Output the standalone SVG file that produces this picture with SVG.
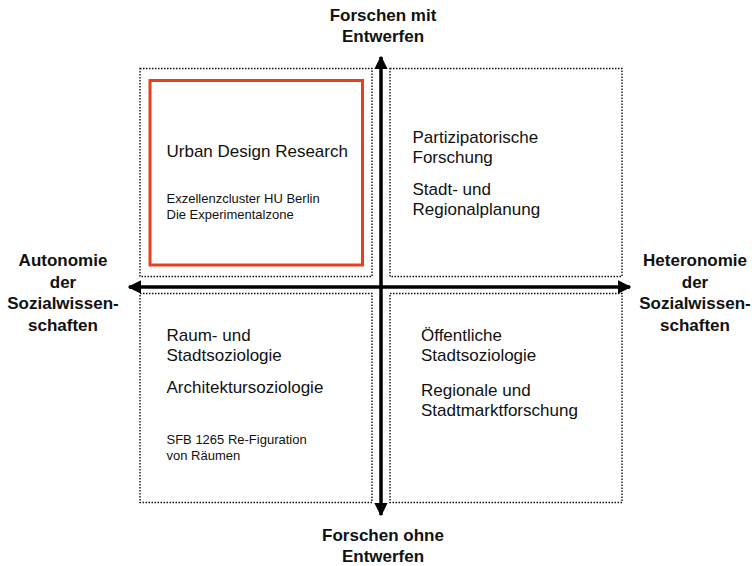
<svg xmlns="http://www.w3.org/2000/svg" width="752" height="566" viewBox="0 0 752 566">
<style>
.q{fill:none;stroke:#111;stroke-width:1.4;stroke-dasharray:1.5 1.5}
.t{font-family:"Liberation Sans",Arial,sans-serif;font-size:17px;fill:#111}
.s{font-family:"Liberation Sans",Arial,sans-serif;font-size:13px;fill:#111}
.b{font-family:"Liberation Sans",Arial,sans-serif;font-size:17px;font-weight:bold;fill:#111;text-anchor:middle}
.ax{stroke:#000;stroke-width:3.5;fill:none}
</style>
<defs>
<marker id="ah" viewBox="0 0 10 10" refX="9" refY="5" markerWidth="3.8" markerHeight="3.8" orient="auto" markerUnits="strokeWidth">
<path d="M0,0 L10,5 L0,10 Z" fill="#000"/>
</marker>
</defs>
<rect width="752" height="566" fill="#fff"/>
<g id="quadrant-tl">
<rect class="q" x="140" y="68.5" width="232" height="208"/>
<rect x="150" y="80.5" width="212.5" height="184.5" fill="none" stroke="#E8401C" stroke-width="3"/>
<text class="t" x="166.5" y="157">Urban Design Research</text>
<text class="s" x="166.5" y="203">Exzellenzcluster HU Berlin</text>
<text class="s" x="166.5" y="219">Die Experimentalzone</text>
</g>
<g id="quadrant-tr">
<rect class="q" x="390" y="68.5" width="232" height="208"/>
<text class="t" x="412.5" y="143">Partizipatorische</text>
<text class="t" x="412.5" y="163">Forschung</text>
<text class="t" x="412.5" y="195">Stadt- und</text>
<text class="t" x="412.5" y="215">Regionalplanung</text>
</g>
<g id="quadrant-bl">
<rect class="q" x="140" y="293.5" width="232" height="209"/>
<text class="t" x="166.5" y="341">Raum- und</text>
<text class="t" x="166.5" y="361">Stadtsoziologie</text>
<text class="t" x="166.5" y="393">Architektursoziologie</text>
<text class="s" x="166.5" y="444">SFB 1265 Re-Figuration</text>
<text class="s" x="166.5" y="460">von Räumen</text>
</g>
<g id="quadrant-br">
<rect class="q" x="390" y="293.5" width="232" height="209"/>
<text class="t" x="421" y="341">Öffentliche</text>
<text class="t" x="421" y="361">Stadtsoziologie</text>
<text class="t" x="421" y="396">Regionale und</text>
<text class="t" x="421" y="416">Stadtmarktforschung</text>
</g>
<g id="connectors">
<line class="ax" x1="381" y1="285" x2="381" y2="57" marker-end="url(#ah)"/>
<line class="ax" x1="381" y1="285" x2="381" y2="515" marker-end="url(#ah)"/>
<line class="ax" x1="381" y1="287" x2="630" y2="287" marker-end="url(#ah)"/>
<line class="ax" x1="381" y1="287" x2="129" y2="287" marker-end="url(#ah)"/>
</g>
<g id="label-top">
<text class="b" x="383" y="21">Forschen mit</text>
<text class="b" x="383" y="42">Entwerfen</text>
</g>
<g id="label-bottom">
<text class="b" x="383" y="541">Forschen ohne</text>
<text class="b" x="383" y="562">Entwerfen</text>
</g>
<g id="label-left">
<text class="b" x="63" y="266">Autonomie</text>
<text class="b" x="63" y="288">der</text>
<text class="b" x="63" y="309">Sozialwissen-</text>
<text class="b" x="63" y="331">schaften</text>
</g>
<g id="label-right">
<text class="b" x="695" y="266">Heteronomie</text>
<text class="b" x="695" y="288">der</text>
<text class="b" x="695" y="309">Sozialwissen-</text>
<text class="b" x="695" y="331">schaften</text>
</g>
</svg>
